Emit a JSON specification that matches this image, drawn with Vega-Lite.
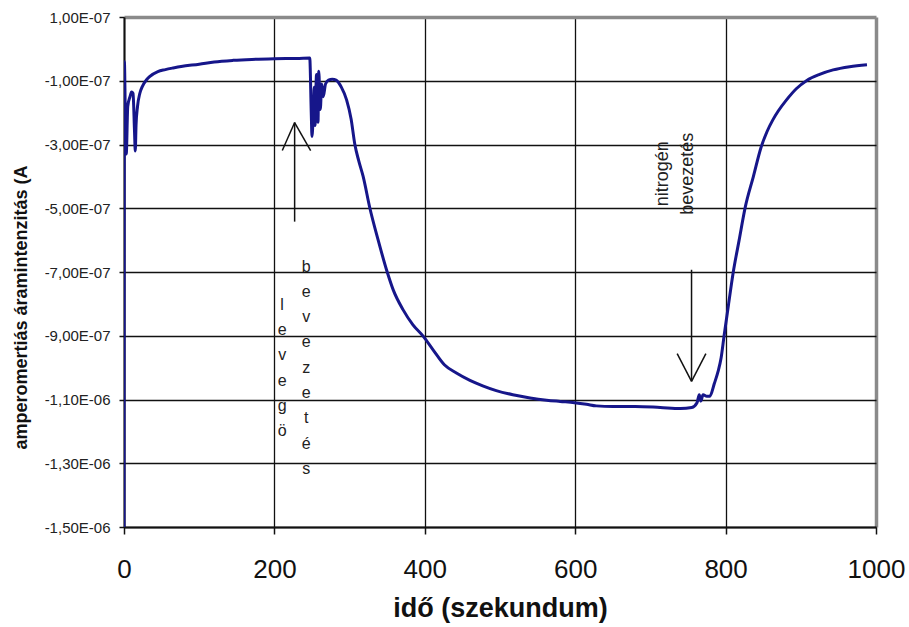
{
  "$schema": "https://vega.github.io/schema/vega-lite/v6.json",
  "width": 752,
  "height": 510,
  "autosize": {"type": "none"},
  "padding": {"left": 124, "top": 17, "right": 33, "bottom": 100},
  "background": "white",
  "config": {
    "view": {"stroke": null},
    "font": "Liberation Sans"
  },
  "datasets": {
    "curve": [
      {"t": 0, "i": -15.0e-7},
      {"t": 0.5, "i": -0.4e-7},
      {"t": 2, "i": -2.5e-7},
      {"t": 3, "i": -3.3e-7},
      {"t": 5, "i": -1.8e-7},
      {"t": 8, "i": -1.5e-7},
      {"t": 10, "i": -1.35e-7},
      {"t": 12, "i": -1.4e-7},
      {"t": 14, "i": -2.6e-7},
      {"t": 15, "i": -3.2e-7},
      {"t": 16, "i": -2.4e-7},
      {"t": 18, "i": -1.8e-7},
      {"t": 21, "i": -1.4e-7},
      {"t": 25, "i": -1.15e-7},
      {"t": 30, "i": -0.97e-7},
      {"t": 34, "i": -0.87e-7},
      {"t": 45, "i": -0.71e-7},
      {"t": 55, "i": -0.65e-7},
      {"t": 65, "i": -0.6e-7},
      {"t": 76, "i": -0.55e-7},
      {"t": 100, "i": -0.48e-7},
      {"t": 120, "i": -0.41e-7},
      {"t": 145, "i": -0.36e-7},
      {"t": 170, "i": -0.33e-7},
      {"t": 200, "i": -0.31e-7},
      {"t": 233, "i": -0.3e-7},
      {"t": 247, "i": -0.29e-7},
      {"t": 249, "i": -2.0e-7},
      {"t": 250, "i": -2.75e-7},
      {"t": 252, "i": -1.8e-7},
      {"t": 253, "i": -1.2e-7},
      {"t": 254, "i": -2.4e-7},
      {"t": 256, "i": -0.8e-7},
      {"t": 258, "i": -2.3e-7},
      {"t": 259, "i": -0.7e-7},
      {"t": 261, "i": -1.9e-7},
      {"t": 263, "i": -1.1e-7},
      {"t": 265, "i": -1.5e-7},
      {"t": 268, "i": -1.1e-7},
      {"t": 272, "i": -0.98e-7},
      {"t": 277, "i": -0.95e-7},
      {"t": 282, "i": -0.98e-7},
      {"t": 289, "i": -1.2e-7},
      {"t": 296, "i": -1.6e-7},
      {"t": 302, "i": -2.2e-7},
      {"t": 307, "i": -3.0e-7},
      {"t": 312, "i": -3.5e-7},
      {"t": 318, "i": -4.0e-7},
      {"t": 327, "i": -5.0e-7},
      {"t": 338, "i": -6.0e-7},
      {"t": 350, "i": -7.0e-7},
      {"t": 358, "i": -7.56e-7},
      {"t": 371, "i": -8.18e-7},
      {"t": 384, "i": -8.65e-7},
      {"t": 398, "i": -9.02e-7},
      {"t": 411, "i": -9.44e-7},
      {"t": 426, "i": -9.91e-7},
      {"t": 442, "i": -10.17e-7},
      {"t": 460, "i": -10.4e-7},
      {"t": 477, "i": -10.57e-7},
      {"t": 495, "i": -10.72e-7},
      {"t": 517, "i": -10.85e-7},
      {"t": 540, "i": -10.95e-7},
      {"t": 562, "i": -11.02e-7},
      {"t": 580, "i": -11.06e-7},
      {"t": 599, "i": -11.1e-7},
      {"t": 615, "i": -11.15e-7},
      {"t": 628, "i": -11.2e-7},
      {"t": 650, "i": -11.22e-7},
      {"t": 680, "i": -11.22e-7},
      {"t": 713, "i": -11.25e-7},
      {"t": 740, "i": -11.28e-7},
      {"t": 755, "i": -11.25e-7},
      {"t": 762, "i": -11.1e-7},
      {"t": 765, "i": -10.85e-7},
      {"t": 767, "i": -11.05e-7},
      {"t": 770, "i": -10.85e-7},
      {"t": 775, "i": -10.9e-7},
      {"t": 779, "i": -10.9e-7},
      {"t": 785, "i": -10.5e-7},
      {"t": 790, "i": -10.12e-7},
      {"t": 794, "i": -9.7e-7},
      {"t": 798, "i": -9.0e-7},
      {"t": 804, "i": -8.0e-7},
      {"t": 810, "i": -7.03e-7},
      {"t": 818, "i": -6.0e-7},
      {"t": 826, "i": -4.98e-7},
      {"t": 837, "i": -4.0e-7},
      {"t": 847, "i": -3.1e-7},
      {"t": 855, "i": -2.6e-7},
      {"t": 863, "i": -2.22e-7},
      {"t": 870, "i": -1.95e-7},
      {"t": 881, "i": -1.6e-7},
      {"t": 894, "i": -1.25e-7},
      {"t": 908, "i": -0.99e-7},
      {"t": 925, "i": -0.8e-7},
      {"t": 943, "i": -0.66e-7},
      {"t": 965, "i": -0.56e-7},
      {"t": 988, "i": -0.5e-7}
    ],
    "arrows": [
      {"t": 226.9, "i": -5.42e-7, "t2": 226.9, "i2": -2.31e-7},
      {"t": 210.5, "i": -3.19e-7, "t2": 226.9, "i2": -2.31e-7},
      {"t": 248.2, "i": -3.19e-7, "t2": 226.9, "i2": -2.31e-7},
      {"t": 754.7, "i": -6.93e-7, "t2": 754.7, "i2": -10.43e-7},
      {"t": 735.6, "i": -9.56e-7, "t2": 754.7, "i2": -10.43e-7},
      {"t": 773.8, "i": -9.56e-7, "t2": 754.7, "i2": -10.43e-7}
    ],
    "stacked": [
      {"t": 210.3, "i": -8.03e-7, "label": "l\ne\nv\ne\ng\nö"},
      {"t": 242.4, "i": -6.83e-7, "label": "b\ne\nv\ne\nz\ne\nt\né\ns"}
    ],
    "rotated": [
      {"t": 716.6, "i": -3.92e-7, "label": "nitrogén\nbevezetés"}
    ]
  },
  "encoding": {
    "x": {
      "field": "t",
      "type": "quantitative",
      "scale": {"domain": [0, 1000], "nice": false, "zero": false},
      "axis": {
        "values": [0, 200, 400, 600, 800, 1000],
        "format": "d",
        "title": "idő (szekundum)",
        "titleFontSize": 27,
        "titleFontWeight": "bold",
        "titleColor": "#111",
        "titleX": 376,
        "titleY": 81,
        "titleBaseline": "middle",
        "titleAnchor": "middle",
        "titleAlign": "center",
        "labelFontSize": 26,
        "labelColor": "#111",
        "labelBaseline": "alphabetic",
        "labelPadding": 43,
        "labelFlush": false,
        "tickSize": 7,
        "tickColor": "#111",
        "tickWidth": 1.5,
        "domainColor": "#111",
        "domainWidth": 2,
        "grid": true,
        "gridColor": {"condition": {"test": "datum.value >= 1000", "value": "#8a8a8a"}, "value": "#111"},
        "gridWidth": {"condition": {"test": "datum.value >= 1000", "value": 3.5}, "value": 1.3},
        "gridOpacity": 1
      }
    },
    "y": {
      "field": "i",
      "type": "quantitative",
      "scale": {"domain": [-1.5e-6, 1.0e-7], "nice": false, "zero": false},
      "axis": {
        "values": [1e-7, -1e-7, -3e-7, -5e-7, -7e-7, -9e-7, -1.1e-6, -1.3e-6, -1.5e-6],
        "labelExpr": "replace(replace(replace(format(datum.value, '.2e'), '.', ','), 'e-', 'E-0'), '\u2212', '-')",
        "title": "amperomertiás áramintenzitás (A",
        "titleFontSize": 18,
        "titleFontWeight": "bold",
        "titleColor": "#111",
        "titleAngle": 270,
        "titleX": -103,
        "titleY": 290,
        "titleBaseline": "middle",
        "titleAlign": "center",
        "labelFontSize": 15,
        "labelColor": "#222",
        "labelPadding": 9,
        "labelFlush": false,
        "tickSize": 5,
        "tickColor": "#111",
        "tickWidth": 1.5,
        "domainColor": "#111",
        "domainWidth": 2,
        "grid": true,
        "gridColor": {"condition": {"test": "datum.value > 0", "value": "#8a8a8a"}, "value": "#111"},
        "gridWidth": {"condition": {"test": "datum.value > 0", "value": 3.5}, "value": 1.3},
        "gridOpacity": 1
      }
    }
  },
  "layer": [
    {
      "data": {"name": "arrows"},
      "mark": {"type": "rule", "color": "#111", "strokeWidth": 1.5},
      "encoding": {
        "x2": {"field": "t2"},
        "y2": {"field": "i2"}
      }
    },
    {
      "data": {"name": "stacked"},
      "mark": {"type": "text", "align": "center", "baseline": "middle", "fontSize": 16, "lineBreak": "\n", "lineHeight": 25.3, "color": "#222"},
      "encoding": {"text": {"field": "label"}}
    },
    {
      "data": {"name": "rotated"},
      "mark": {"type": "text", "align": "center", "baseline": "middle", "angle": 270, "fontSize": 18, "lineBreak": "\n", "lineHeight": 25, "color": "#222"},
      "encoding": {"text": {"field": "label"}}
    },
    {
      "data": {"name": "curve"},
      "mark": {"type": "line", "color": "#16168a", "strokeWidth": 3, "strokeJoin": "round", "interpolate": "monotone", "clip": true},
      "encoding": {"order": {"field": "t"}}
    }
  ]
}
